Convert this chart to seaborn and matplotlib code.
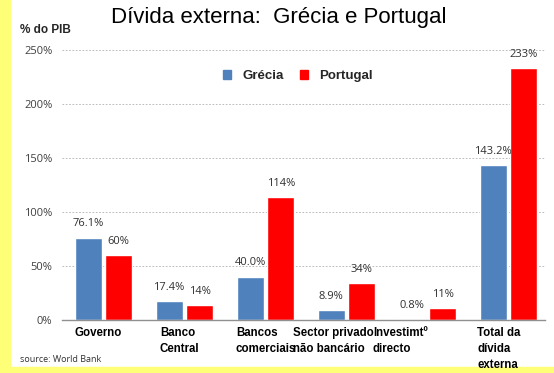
import pandas as pd
import numpy as np
import matplotlib
matplotlib.use('Agg')
import matplotlib.pyplot as plt
import matplotlib.transforms as mtransforms
from matplotlib.patches import Rectangle
import seaborn as sns

# --------------------------
# DATA
# --------------------------
categories = ['Governo', 'Banco\nCentral', 'Bancos\ncomerciais',
              'Sector privado\nnão bancário', 'Investimtº\ndirecto',
              'Total da\ndívida\nexterna']
grecia = [76.1, 17.4, 40.0, 8.9, 0.8, 143.2]
portugal = [60, 14, 114, 34, 11, 233]
series = ['Grécia', 'Portugal']
y_ticks = [0, 50, 100, 150, 200, 250]

df = pd.DataFrame({
    'Categoria': categories * 2,
    'Pais': ['Grécia'] * len(categories) + ['Portugal'] * len(categories),
    'Valor': grecia + portugal,
})

colors = {'Grécia': '#4F81BD', 'Portugal': '#FF0000'}

sns.set_style('white')
plt.rcParams['font.family'] = ['Liberation Sans', 'DejaVu Sans']

fig = plt.figure(figsize=(5.54, 3.73), dpi=100)
ax = fig.add_axes([62 / 554, 1 - 320 / 373, (545 - 62) / 554, 270 / 373])

sns.barplot(data=df, x='Categoria', y='Valor', hue='Pais', palette=colors,
            width=0.753, gap=0.115, saturation=1, ax=ax, legend=False)

# value labels
for cont, pais in zip(ax.containers, series):
    fmt = '{:.1f}%' if pais == 'Grécia' else '{:.0f}%'
    labels = [fmt.format(v) for v in cont.datavalues]
    ax.bar_label(cont, labels=labels, padding=6, fontsize=8,
                 color='#303030', family=['Open Sans', 'DejaVu Sans'])

ax.set_ylim(0, 250)
ax.set_xlim(-0.51, 5.45)
ax.set_yticks(y_ticks)
ax.set_yticklabels([f'{t}%' for t in y_ticks], fontsize=8, color='#404040',
                   family=['Open Sans', 'DejaVu Sans'])
ax.yaxis.grid(True, linestyle=(0, (2, 2)), color='#b0b0b0', linewidth=0.6)
ax.set_axisbelow(True)
ax.tick_params(axis='y', length=0, pad=7)
ax.tick_params(axis='x', length=0, pad=5)
for side in ['top', 'right', 'left']:
    ax.spines[side].set_visible(False)
ax.spines['bottom'].set_color('#909090')
ax.spines['bottom'].set_linewidth(1)
ax.set_xlabel('')
ax.set_ylabel('')

# category labels: left-aligned blocks, left edge offset from group centre (px)
left_px = [-28.5, -24.5, -29.5, -53.5, -54.5, -31.5]
ax.set_xticks(range(len(categories)))
ax.set_xticklabels(categories, fontsize=8.3, fontweight='bold', color='black',
                   family='Liberation Sans', linespacing=1.45, ha='left')
for lbl, dx in zip(ax.get_xticklabels(), left_px):
    lbl.set_multialignment('left')
    lbl.set_transform(lbl.get_transform() +
                      mtransforms.ScaledTranslation(dx / 100, 0, fig.dpi_scale_trans))

# legend
handles = [Rectangle((0, 0), 1, 1, color=colors[s]) for s in series]
leg = fig.legend(handles, series, loc='center', bbox_to_anchor=(298 / 554, 1 - 76 / 373),
                 ncol=2, frameon=False, handlelength=0.6, handleheight=0.6,
                 handletextpad=0.9, columnspacing=1.2,
                 prop={'family': 'Liberation Sans', 'weight': 'bold', 'size': 9.5})

# titles and notes
fig.text(279 / 554, 1 - 17 / 373, 'Dívida externa:  Grécia e Portugal',
         ha='center', va='center', fontsize=16, color='black')
fig.text(20 / 554, 1 - 30 / 373, '% do PIB', ha='left', va='center',
         fontsize=8.5, fontweight='bold', family='Liberation Sans')
fig.text(20 / 554, 1 - 360 / 373, 'source: World Bank', ha='left', va='center',
         fontsize=6.5, color='#303030', family=['Open Sans', 'DejaVu Sans'])

# yellow frame (left and bottom)
fig.patches.append(Rectangle((0, 0), 10 / 554, 1, transform=fig.transFigure,
                             color='#FFFF77', zorder=-1))
fig.patches.append(Rectangle((0, 0), 1, 6 / 373, transform=fig.transFigure,
                             color='#FFFF77', zorder=-1))

plt.savefig('out.png', dpi=100)
plt.close(fig)
